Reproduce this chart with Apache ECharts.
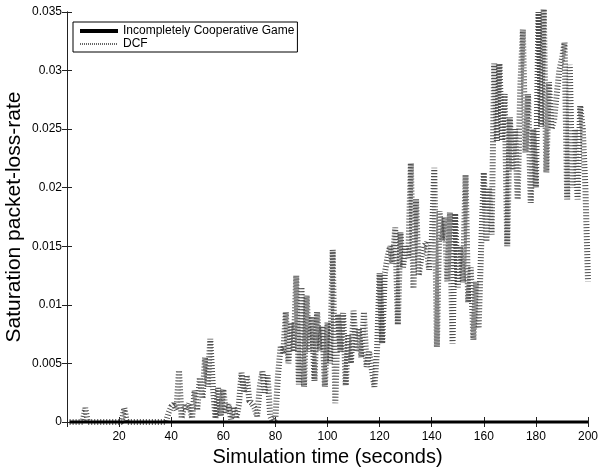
<!DOCTYPE html>
<html>
<head>
<meta charset="utf-8">
<script src="https://cdn.jsdelivr.net/npm/echarts@6/dist/echarts.min.js"></script>
<style>
  html,body{margin:0;padding:0;background:#fff;}
  #chart{width:599px;height:468px;}
</style>
</head>
<body>
<div id="chart"></div>
<script>
// simulation time, one sample per second
var timeSec = [];
for (var i = 1; i <= 200; i++) { timeSec.push(i); }

// DCF saturation packet-loss-rate
var dcfRate = [
  0,0,0,0,0,0,0.0012,0,0,0,                                   // 1-10
  0,0,0,0,0,0,0,0,0,0,                                        // 11-20
  0,0.0012,0,0,0,0,0,0,0,0,                                   // 21-30
  0,0,0,0,0,0,0,0,0.0008,0.0013,                              // 31-40
  0.0015,0.0010,0.0044,0.0003,0.0014,0.0010,0.0016,0.0003,0.0027,0.0010, // 41-50
  0.0038,0.0020,0.0055,0.0030,0.0071,0.0030,0.0003,0.0029,0.0005,0.0028, // 51-60
  0.0008,0.0015,0.0002,0.0013,0.0003,0.0015,0.0042,0.0025,0.0040,0.0018, // 61-70
  0.0016,0.0012,0.0005,0.0030,0.0043,0.0025,0.0040,0.0005,0,0.0003,      // 71-80
  0.0040,0.0064,0.0058,0.0094,0.0050,0.0085,0.0060,0.0125,0.0032,0.0115, // 81-90
  0.0030,0.0108,0.0060,0.0090,0.0035,0.0094,0.0061,0.0082,0.0030,0.0085, // 91-100
  0.0050,0.0147,0.0016,0.0092,0.0060,0.0093,0.0031,0.0075,0.0050,0.0095, // 101-110
  0.0060,0.0080,0.0055,0.0094,0.0047,0.0060,0.0045,0.0030,0.0060,0.0127, // 111-120
  0.0067,0.0127,0.0140,0.0150,0.0135,0.0166,0.0083,0.0162,0.0132,0.0150, // 121-130
  0.0140,0.0221,0.0114,0.0190,0.0125,0.0140,0.0150,0.0153,0.0130,0.0153, // 131-140
  0.0217,0.0064,0.0180,0.0155,0.0175,0.0120,0.0179,0.0067,0.0178,0.0115, // 141-150
  0.0150,0.0119,0.0211,0.0102,0.0132,0.0070,0.0120,0.0080,0.0150,0.0213, // 151-160
  0.0154,0.0200,0.0160,0.0306,0.0240,0.0306,0.0240,0.0280,0.0150,0.0260, // 161-170
  0.0215,0.0250,0.0190,0.0285,0.0335,0.0230,0.0280,0.0187,0.0250,0.0200, // 171-180
  0.0350,0.0252,0.0355,0.0213,0.0290,0.0250,0.0258,0.0280,0.0300,0.0310, // 181-190
  0.0324,0.0190,0.0305,0.0200,0.0250,0.0190,0.0270,0.0250,0.0200,0.0120  // 191-200
];

// incompletely cooperative game: no loss over the whole run
var gameRate = [
  0,0,0,0,0,0,0,0,0,0, 0,0,0,0,0,0,0,0,0,0, 0,0,0,0,0,0,0,0,0,0, 0,0,0,0,0,0,0,0,0,0,
  0,0,0,0,0,0,0,0,0,0, 0,0,0,0,0,0,0,0,0,0, 0,0,0,0,0,0,0,0,0,0, 0,0,0,0,0,0,0,0,0,0,
  0,0,0,0,0,0,0,0,0,0, 0,0,0,0,0,0,0,0,0,0, 0,0,0,0,0,0,0,0,0,0, 0,0,0,0,0,0,0,0,0,0,
  0,0,0,0,0,0,0,0,0,0, 0,0,0,0,0,0,0,0,0,0, 0,0,0,0,0,0,0,0,0,0, 0,0,0,0,0,0,0,0,0,0,
  0,0,0,0,0,0,0,0,0,0, 0,0,0,0,0,0,0,0,0,0, 0,0,0,0,0,0,0,0,0,0, 0,0,0,0,0,0,0,0,0,0
];

var seriesNames = ['Incompletely Cooperative Game', 'DCF'];

function pairs(xs, ys){
    var out = [];
    for (var k = 0; k < xs.length; k++) { out.push([xs[k], ys[k]]); }
    return out;
}

var fontName = 'Liberation Sans, Arial, sans-serif';
var myChart = echarts.init(document.getElementById('chart'));

var axLine = { show: true, lineStyle: { color: '#222', width: 1 } };
var axTick = { show: true, inside: true, length: 5, lineStyle: { color: '#222' } };

myChart.setOption({
    animation: false,
    backgroundColor: '#fff',
    grid: { left: 67, right: 11, top: 12, bottom: 46, containLabel: false, outerBoundsMode: 'none' },
    legend: {
        orient: 'vertical',
        left: 73, top: 22,
        backgroundColor: '#fff',
        borderColor: '#000', borderWidth: 1,
        padding: [3, 3, 2, 5],
        itemGap: 1,
        itemWidth: 38, itemHeight: 11,
        textStyle: { fontFamily: fontName, fontSize: 12, color: '#000' },
        data: [
            { name: seriesNames[0], itemStyle: { opacity: 0 }, lineStyle: { width: 4, color: '#000' } },
            { name: seriesNames[1], itemStyle: { opacity: 0 }, lineStyle: { width: 2, color: '#666', type: [1, 1] } }
        ]
    },
    xAxis: [
        {
            type: 'value', position: 'bottom', min: 0, max: 200, interval: 20,
            name: 'Simulation time (seconds)', nameLocation: 'middle', nameGap: 20,
            nameTextStyle: { fontFamily: fontName, fontSize: 20, color: '#000' },
            axisLine: axLine, axisTick: axTick, splitLine: { show: false },
            axisLabel: { showMinLabel: false, margin: 9, fontFamily: fontName, fontSize: 12, color: '#000' }
        },
        {
            type: 'value', position: 'top', min: 0, max: 200, interval: 20,
            axisLine: axLine, axisTick: axTick, splitLine: { show: false },
            axisLabel: { show: false }
        }
    ],
    yAxis: [
        {
            type: 'value', position: 'left', min: 0, max: 0.035, interval: 0.005,
            name: 'Saturation packet-loss-rate', nameLocation: 'middle', nameGap: 42,
            nameMoveOverlap: false,
            nameTextStyle: { fontFamily: fontName, fontSize: 21, color: '#000' },
            axisLine: axLine, axisTick: axTick, splitLine: { show: false },
            axisLabel: { margin: 5, fontFamily: fontName, fontSize: 12, color: '#000',
                formatter: function(v){ return String(+v.toFixed(3)); } }
        },
        {
            type: 'value', position: 'right', min: 0, max: 0.035, interval: 0.005,
            axisLine: axLine, axisTick: axTick, splitLine: { show: false },
            axisLabel: { show: false }
        }
    ],
    series: [
        {
            name: seriesNames[1], type: 'line', showSymbol: false, symbol: 'none',
            clip: true, z: 2,
            data: pairs(timeSec, dcfRate),
            lineStyle: { color: '#505050', width: 6, type: [1, 2] },
            itemStyle: { color: '#505050' }
        },
        {
            name: seriesNames[0], type: 'line', showSymbol: false, symbol: 'none',
            clip: false, z: 3,
            data: pairs(timeSec, gameRate),
            lineStyle: { color: '#000', width: 3 },
            itemStyle: { color: '#000' }
        }
    ]
});
</script>
</body>
</html>
